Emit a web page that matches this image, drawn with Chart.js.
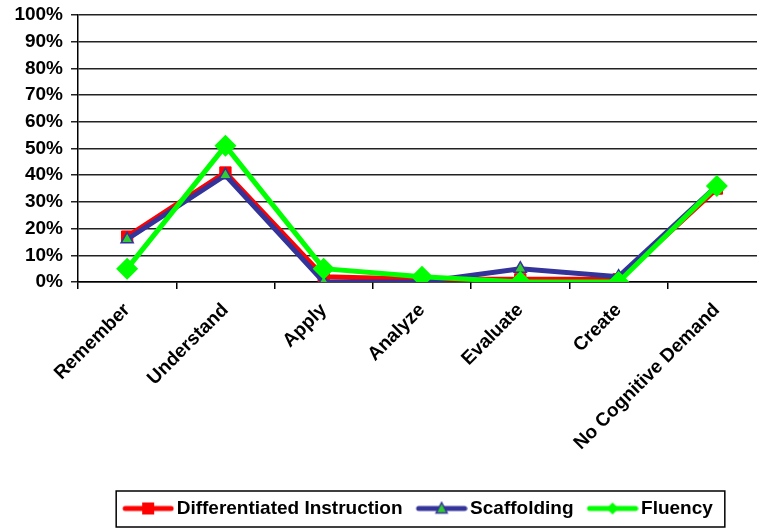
<!DOCTYPE html>
<html>
<head>
<meta charset="utf-8">
<script src="https://cdn.jsdelivr.net/npm/chart.js@4.4.1/dist/chart.umd.min.js"></script>
<style>
  html, body { margin: 0; padding: 0; background: #fff; overflow: hidden; }
  #wrap { width: 757px; height: 528px; overflow: hidden; }
</style>
</head>
<body>
<div id="wrap"><canvas id="c" width="777" height="528"></canvas></div>
<script>
// Bloom's levels along the x axis
const categories = ['Remember', 'Understand', 'Apply', 'Analyze', 'Evaluate', 'Create', 'No Cognitive Demand'];

// Share of items at each level (%)
const differentiatedInstruction = [17, 41, 2, 1, 1, 1, 35];
const scaffolding = [16, 40, 0, 0, 5, 2, 36];
const fluency = [5, 51, 5, 2, 0, 0, 36];

const yTicks = [0, 10, 20, 30, 40, 50, 60, 70, 80, 90, 100];

const FONT = 'Liberation Sans, Arial, Helvetica, sans-serif';
const RED = '#ff0000';
const BLUE = '#333399';
const GREEN = '#00ff00';
const TRI_FILL = '#33cc33';

// Small legend swatches: a line segment with the series marker in the middle,
// drawn toward the right of the image so it sits close to its label
function swatch(color, marker) {
  const cv = document.createElement('canvas');
  cv.width = 62; cv.height = 16;
  const g = cv.getContext('2d');
  const cx = 36;
  g.strokeStyle = color; g.lineWidth = 5; g.lineCap = 'round';
  g.beginPath(); g.moveTo(13, 8); g.lineTo(59, 8); g.stroke();
  if (marker === 'rect') {
    g.fillStyle = color; g.fillRect(cx - 6, 2, 12, 12);
  } else if (marker === 'tri') {
    g.fillStyle = TRI_FILL; g.strokeStyle = color; g.lineWidth = 1.5;
    g.beginPath(); g.moveTo(cx, 2); g.lineTo(cx + 5.5, 12.5); g.lineTo(cx - 5.5, 12.5); g.closePath();
    g.fill(); g.stroke();
  } else {
    g.fillStyle = color;
    g.beginPath(); g.moveTo(cx, 2); g.lineTo(cx + 6, 8); g.lineTo(cx, 14); g.lineTo(cx - 6, 8); g.closePath();
    g.fill();
  }
  return cv;
}

// Place the legend under the plot area and frame it with a thin box
const legendFrame = {
  id: 'legendFrame',
  afterLayout(chart) {
    const lg = chart.legend;
    if (!lg) return;
    const w = lg.right - lg.left;
    const mid = (chart.chartArea.left + chart.chartArea.right) / 2 - 6;
    lg.left = mid - w / 2;
    lg.right = mid + w / 2;
  },
  afterDraw(chart) {
    const lg = chart.legend;
    if (!lg || !lg.legendHitBoxes.length) return;
    const hb = lg.legendHitBoxes;
    const x0 = hb[0].left - 3;
    const last = hb[hb.length - 1];
    const x1 = last.left + last.width + 12;
    const ctx = chart.ctx;
    ctx.save();
    ctx.strokeStyle = '#000';
    ctx.lineWidth = 1.5;
    ctx.strokeRect(x0, lg.top + 2, x1 - x0, lg.bottom - lg.top - 3);
    ctx.restore();
  }
};

new Chart(document.getElementById('c'), {
  type: 'line',
  data: {
    labels: categories,
    datasets: [
      {
        label: 'Differentiated Instruction',
        data: differentiatedInstruction,
        borderColor: RED,
        backgroundColor: RED,
        borderWidth: 5,
        pointStyle: 'rect',
        pointRadius: 8,
        pointBorderWidth: 1,
        pointBorderColor: RED,
        pointBackgroundColor: RED,
        tension: 0,
        order: 2
      },
      {
        label: 'Scaffolding',
        data: scaffolding,
        borderColor: BLUE,
        backgroundColor: BLUE,
        borderWidth: 5,
        pointStyle: 'triangle',
        pointRadius: 7,
        pointBorderWidth: 1.5,
        pointBorderColor: BLUE,
        pointBackgroundColor: TRI_FILL,
        tension: 0,
        order: 1
      },
      {
        label: 'Fluency',
        data: fluency,
        borderColor: GREEN,
        backgroundColor: GREEN,
        borderWidth: 5,
        pointStyle: 'rectRot',
        pointRadius: 11,
        pointBorderWidth: 0,
        pointBackgroundColor: GREEN,
        tension: 0,
        order: 0
      }
    ]
  },
  options: {
    responsive: false,
    animation: false,
    events: [],
    layout: { padding: { left: 0, right: 0, top: 15, bottom: 0 } },
    plugins: {
      tooltip: { enabled: false },
      title: { display: false },
      legend: {
        display: true,
        position: 'bottom',
        align: 'center',
        labels: {
          usePointStyle: true,
          pointStyleWidth: 48,
          padding: 10,
          color: '#000',
          font: { family: FONT, size: 19, weight: 'bold' },
          sort: (a, b) => a.datasetIndex - b.datasetIndex,
          generateLabels(chart) {
            const styles = [swatch(RED, 'rect'), swatch(BLUE, 'tri'), swatch(GREEN, 'diamond')];
            return chart.data.datasets.map((ds, i) => ({
              text: ds.label,
              datasetIndex: i,
              pointStyle: styles[i],
              fillStyle: ds.borderColor,
              strokeStyle: ds.borderColor,
              lineWidth: 0,
              hidden: false,
              fontColor: '#000'
            }));
          }
        }
      }
    },
    scales: {
      x: {
        offset: true,
        afterFit(scale) {
          scale.height = 207;
          scale.paddingLeft = 0;
          scale.paddingRight = 0;
        },
        grid: {
          display: true,
          offset: true,
          drawOnChartArea: false,
          drawTicks: true,
          tickLength: 7,
          color: '#000',
          lineWidth: 1.5
        },
        border: { display: true, color: '#000', width: 1.5 },
        ticks: {
          color: '#000',
          font: { family: FONT, size: 19, weight: 'bold' },
          minRotation: 45,
          maxRotation: 45,
          autoSkip: false,
          padding: 10
        }
      },
      y: {
        min: 0,
        max: 100,
        afterFit(scale) {
          scale.width = 78;
          scale.paddingTop = 0;
          scale.paddingBottom = 0;
        },
        afterBuildTicks(scale) { scale.ticks = yTicks.map(v => ({ value: v })); },
        grid: {
          display: true,
          color: '#222',
          lineWidth: 1.5,
          drawTicks: true,
          tickLength: 7
        },
        border: { display: true, color: '#000', width: 1.5 },
        ticks: {
          color: '#000',
          padding: 8,
          font: { family: FONT, size: 19, weight: 'bold' },
          callback: v => v + '%'
        }
      }
    }
  },
  plugins: [legendFrame]
});
</script>
</body>
</html>
